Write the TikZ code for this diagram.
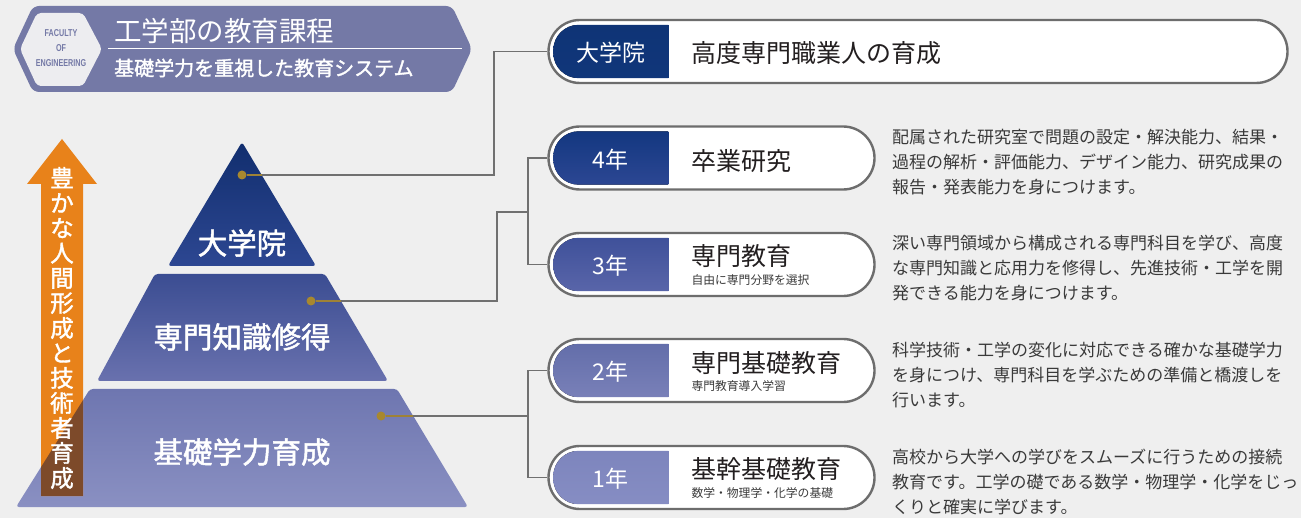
\documentclass[tikz,border=0pt]{standalone}
\usepackage{fontspec}
\setmainfont{Noto Sans CJK JP}
\newfontfamily\medfont[FakeBold=1.6]{Noto Sans CJK JP}
\newfontfamily\facfont{Liberation Sans}
\usetikzlibrary{calc}
\definecolor{bg}{HTML}{EFEFEF}
\definecolor{hdr}{HTML}{7479A6}
\definecolor{hexin}{HTML}{EDEDF0}
\definecolor{orng}{HTML}{E8821A}
\definecolor{brwn}{HTML}{7D4A2A}
\definecolor{lgray}{HTML}{707070}
\definecolor{pgray}{HTML}{6D6D6D}
\definecolor{gold}{HTML}{A8882E}
\definecolor{goldl}{HTML}{9E8236}
\definecolor{txt}{HTML}{3A3A3A}
\definecolor{ttlc}{HTML}{231F20}
\definecolor{pAt}{HTML}{112E6E}
\definecolor{pAb}{HTML}{2D4792}
\definecolor{pBt}{HTML}{3B4D92}
\definecolor{pBb}{HTML}{6971AE}
\definecolor{pCt}{HTML}{6E76B0}
\definecolor{pCb}{HTML}{8A90C2}
\definecolor{l0t}{HTML}{0F3476}
\definecolor{l0b}{HTML}{10367A}
\definecolor{l4t}{HTML}{133780}
\definecolor{l4b}{HTML}{2C4793}
\definecolor{l3t}{HTML}{3F519A}
\definecolor{l3b}{HTML}{5965A9}
\definecolor{l2t}{HTML}{636EAA}
\definecolor{l2b}{HTML}{7980B8}
\definecolor{l1t}{HTML}{7D85BD}
\definecolor{l1b}{HTML}{868DC3}
\tikzset{
  pill/.style={draw=pgray, line width=2.4pt, fill=white, rounded corners=31.4pt, inner sep=0pt, minimum height=63pt},
  labeltxt/.style={text=white, font=\fontsize{23}{26}\selectfont, inner sep=0pt},
  ttl/.style={text=ttlc, font=\fontsize{25}{28}\selectfont, inner sep=0pt, anchor=west},
  subt/.style={text=txt, font=\fontsize{11.8}{14}\selectfont, inner sep=0pt, anchor=west},
  desc/.style={text=txt, font=\fontsize{17}{24.7}\selectfont, inner sep=0pt, anchor=west, align=left},
  conn/.style={draw=lgray, line width=1.3pt},
  goldseg/.style={draw=goldl, line width=1.3pt},
  dot/.style={circle, fill=gold, inner sep=0pt, minimum size=9pt},
  pyrtxt/.style={text=white, font=\medfont\fontsize{29.5}{32}\selectfont, inner sep=0pt},
}
\newcommand\mkpill[7]{%
  \node[pill, minimum width=#4pt] (#1) at (#2,#3) {};
  \begin{scope}
    \clip[rounded corners=25.4pt] ($(#1.north west)+(6,6)$) rectangle ($(#1.south east)+(-6,-6)$);
    \fill[top color=#5, bottom color=#6] ($(#1.north west)+(6,6)$) rectangle ($(#1.south west)+(121,-6)$);
  \end{scope}
  \node[labeltxt] (#1-lab) at ($(#1.west)+(63.5,1.5)$) {#7};
}
\begin{document}
\begin{tikzpicture}[x=1pt,y=-1pt]
\fill[bg] (0,0) rectangle (1301,518);
\useasboundingbox (0,0) rectangle (1301,518);

% header
\fill[hdr, rounded corners=6pt] (13,49) -- (33,6) -- (452,6) -- (472,49) -- (452,92) -- (33,92) -- cycle;
\fill[hexin, rounded corners=4pt] (20,49) -- (37,13) -- (83,13) -- (102,49) -- (83,86) -- (37,86) -- cycle;
\node[text=hdr, align=center, inner sep=0pt, font=\facfont\bfseries\fontsize{10}{15}\selectfont] (fac) at (61,48.5)
  {\scalebox{0.72}[1]{FACULTY}\\\scalebox{0.72}[1]{OF}\\\scalebox{0.72}[1]{ENGINEERING}};
\node[text=white, anchor=west, inner sep=0pt, font=\fontsize{27.5}{30}\selectfont] (htitle) at (114,31) {工学部の教育課程};
\draw[white, line width=1pt] (108,49) -- (462,49);
\node[text=white, anchor=west, inner sep=0pt, font=\medfont\fontsize{20}{22}\selectfont] (hsub) at (114,68) {基礎学力を重視した教育システム};

% pyramid
\shade[top color=pAt, bottom color=pAb, rounded corners=3pt] (242,142) -- (316,266) -- (168,266) -- cycle;
\shade[top color=pBt, bottom color=pBb, rounded corners=3pt] (155,274) -- (325,274) -- (388,381) -- (97,381) -- cycle;
\shade[top color=pCt, bottom color=pCb, rounded corners=3pt] (90,389) -- (397,389) -- (468,507) -- (16,507) -- cycle;

% arrow
\fill[orng] (62,139) -- (97,184) -- (83,184) -- (83,496) -- (41,496) -- (41,184) -- (27,184) -- cycle;
\begin{scope}
  \clip[rounded corners=3pt] (90,389) -- (397,389) -- (468,507) -- (16,507) -- cycle;
  \fill[brwn] (41,184) rectangle (83,496);
\end{scope}
\node[text=white, align=center, inner sep=0pt, font=\medfont\fontsize{23.5}{25}\selectfont] (vt) at (62,328)
  {豊\\か\\な\\人\\間\\形\\成\\と\\技\\術\\者\\育\\成};

\node[pyrtxt] (p0) at (242,243) {大学院};
\node[pyrtxt] (p1) at (242,337) {専門知識修得};
\node[pyrtxt] (p2) at (242,452) {基礎学力育成};

% boxes
\mkpill{b0}{918}{51.5}{739}{l0t}{l0b}{大学院}
\mkpill{b4}{711.5}{158}{326}{l4t}{l4b}{4年}
\mkpill{b3}{711.5}{264.5}{326}{l3t}{l3b}{3年}
\mkpill{b2}{711.5}{370.5}{326}{l2t}{l2b}{2年}
\mkpill{b1}{711.5}{477.5}{326}{l1t}{l1b}{1年}

\node[ttl] (b0-t) at ($(b0.west)+(144,1.5)$) {高度専門職業人の育成};
\node[ttl] (b4-t) at ($(b4.west)+(144,3.5)$) {卒業研究};
\node[ttl] (b3-t) at ($(b3.west)+(144,-8.5)$) {専門教育};
\node[subt] (b3-s) at ($(b3.west)+(144,15.5)$) {自由に専門分野を選択};
\node[ttl] (b2-t) at ($(b2.west)+(144,-7.5)$) {専門基礎教育};
\node[subt] (b2-s) at ($(b2.west)+(144,16)$) {専門教育導入学習};
\node[ttl] (b1-t) at ($(b1.west)+(144,-8)$) {基幹基礎教育};
\node[subt] (b1-s) at ($(b1.west)+(144,16)$) {数学・物理学・化学の基礎};

% dots and connectors
\node[dot] (d0) at (242,175) {};
\node[dot] (d1) at (311,301) {};
\node[dot] (d2) at (381,416) {};
\coordinate (j0) at (494,175);
\coordinate (j1) at (497,301);
\coordinate (j1b) at (528,212);
\coordinate (j2) at (528,416);
\draw[conn] (d0) -- (j0) |- (b0.west);
\draw[conn] (d1) -- (j1) |- (j1b);
\draw[conn] (b4.west) -| (j1b) |- (b3.west);
\draw[conn] (d2) -- (j2);
\draw[conn] (b2.west) -| (j2) |- (b1.west);
\coordinate (e0) at (262,175);
\coordinate (e1) at (341,301);
\coordinate (e2) at (413,416);
\draw[goldseg] (d0) -- (e0);
\draw[goldseg] (d1) -- (e1);
\draw[goldseg] (d2) -- (e2);

% descriptions
\node[desc] (t4) at (892,162) {配属された研究室で問題の設定・解決能力、結果・\\過程の解析・評価能力、デザイン能力、研究成果の\\報告・発表能力を身につけます。};
\node[desc] (t3) at (892,268) {深い専門領域から構成される専門科目を学び、高度\\な専門知識と応用力を修得し、先進技術・工学を開\\発できる能力を身につけます。};
\node[desc] (t2) at (892,375) {科学技術・工学の変化に対応できる確かな基礎学力\\を身につけ、専門科目を学ぶための準備と橋渡しを\\行います。};
\node[desc] (t1) at (892,482) {高校から大学への学びをスムーズに行うための接続\\教育です。工学の礎である数学・物理学・化学をじっ\\くりと確実に学びます。};
\end{tikzpicture}
\end{document}
